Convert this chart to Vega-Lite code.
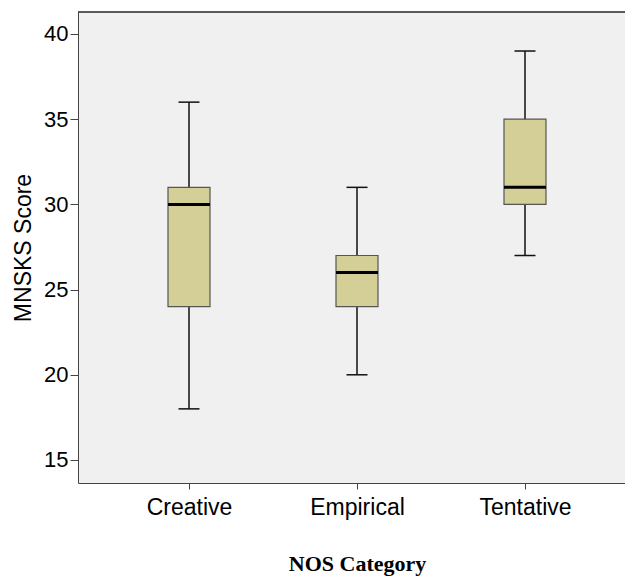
{
  "$schema": "https://vega.github.io/schema/vega-lite/v6.json",
  "autosize": {"type": "none"},
  "padding": {"left": 78, "top": 12, "right": 0, "bottom": 94},
  "width": 558,
  "height": 471,
  "background": "white",
  "config": {
    "view": {"fill": "#f0f0f0", "stroke": null},
    "axis": {"grid": false, "labelColor": "black", "tickColor": "#444444", "titleColor": "black", "domainColor": "#444444", "domainWidth": 1}
  },
  "data": {
    "values": [
      {"category": "Creative", "min": 18, "q1": 24, "median": 30, "q3": 31, "max": 36},
      {"category": "Empirical", "min": 20, "q1": 24, "median": 26, "q3": 27, "max": 31},
      {"category": "Tentative", "min": 27, "q1": 30, "median": 31, "q3": 35, "max": 39}
    ]
  },
  "layer": [
    {
      "mark": {"type": "rule", "color": "#111111", "strokeWidth": 1.5},
      "encoding": {
        "x": {
          "field": "category", "type": "nominal",
          "scale": {"type": "point", "padding": 0.6607},
          "axis": {
            "title": "NOS Category", "labelAngle": 0, "domain": true,
            "labelFont": "Liberation Sans", "labelFontSize": 23, "labelPadding": 7, "tickSize": 6,
            "titleFont": "Liberation Serif", "titleFontSize": 22, "titleFontWeight": "bold", "titlePadding": 34
          }
        },
        "y": {
          "field": "min", "type": "quantitative",
          "scale": {"domain": [13.65, 41.29], "nice": false, "zero": false},
          "axis": {
            "title": "MNSKS Score", "values": [15, 20, 25, 30, 35, 40], "domain": true,
            "labelFont": "Liberation Sans", "labelFontSize": 22, "labelPadding": 2, "tickSize": 8,
            "titleFont": "Liberation Sans", "titleFontSize": 23, "titleFontWeight": "normal", "titlePadding": 8
          }
        },
        "y2": {"field": "max"}
      }
    },
    {
      "mark": {"type": "rule", "color": "#444444", "strokeWidth": 1},
      "encoding": {"y": {"datum": 41.29}}
    },
    {
      "mark": {"type": "bar", "size": 42, "fill": "#d3cf97", "stroke": "#555555", "strokeWidth": 1.2},
      "encoding": {
        "x": {"field": "category", "type": "nominal"},
        "y": {"field": "q1", "type": "quantitative"},
        "y2": {"field": "q3"}
      }
    },
    {
      "mark": {"type": "tick", "size": 42, "thickness": 3, "color": "black", "opacity": 1},
      "encoding": {
        "x": {"field": "category", "type": "nominal"},
        "y": {"field": "median", "type": "quantitative"}
      }
    },
    {
      "mark": {"type": "tick", "size": 21, "thickness": 1.5, "color": "#111111", "opacity": 1},
      "encoding": {
        "x": {"field": "category", "type": "nominal"},
        "y": {"field": "min", "type": "quantitative"}
      }
    },
    {
      "mark": {"type": "tick", "size": 21, "thickness": 1.5, "color": "#111111", "opacity": 1},
      "encoding": {
        "x": {"field": "category", "type": "nominal"},
        "y": {"field": "max", "type": "quantitative"}
      }
    }
  ]
}
